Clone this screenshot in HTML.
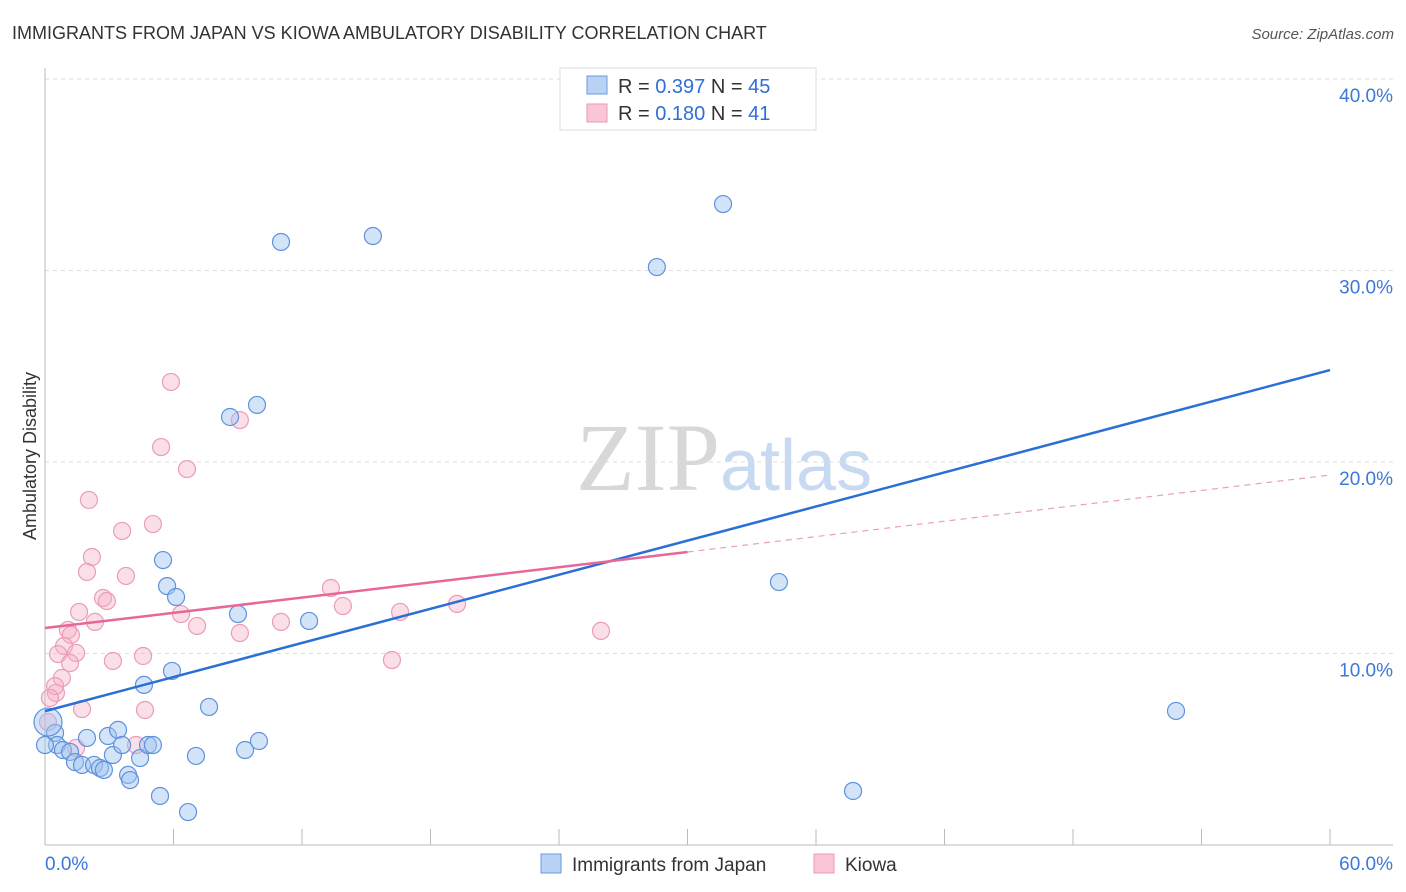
<!DOCTYPE html>
<html><head><meta charset="utf-8"><style>
body{margin:0;background:#fff;font-family:"Liberation Sans",sans-serif;}
svg{display:block}
</style></head><body>
<svg id="c" width="1406" height="892">
<text x="12" y="39" font-size="18" fill="#333">IMMIGRANTS FROM JAPAN VS KIOWA AMBULATORY DISABILITY CORRELATION CHART</text>
<text x="1394" y="39" font-size="15" fill="#555" font-style="italic" text-anchor="end">Source: ZipAtlas.com</text>
<text x="36" y="456" font-size="18" fill="#333" text-anchor="middle" transform="rotate(-90 36 456)">Ambulatory Disability</text>
<text x="720" y="490" font-size="96" fill="#d8d8d8" font-family="Liberation Serif" text-anchor="end">ZIP</text>
<text x="720" y="490" font-size="72" fill="#c8daf2">atlas</text>
<g id="grid"></g><g id="axes"></g><g id="pts"></g><g id="lines"></g>
<g>
<rect x="560" y="68" width="256" height="62" fill="#fff" stroke="#ddd"/>
<rect x="587" y="76" width="20" height="18" fill="#b9d3f5" stroke="#6a9ade"/>
<rect x="587" y="104" width="20" height="18" fill="#f9c6d5" stroke="#e99ab3"/>
<text x="618" y="93" font-size="20" fill="#333">R = <tspan fill="#2f6fd4">0.397</tspan>   N = <tspan fill="#2f6fd4">45</tspan></text>
<text x="618" y="120" font-size="20" fill="#333">R = <tspan fill="#2f6fd4">0.180</tspan>   N = <tspan fill="#2f6fd4"> 41</tspan></text>
</g>
<g>
<rect x="541" y="854" width="20" height="19" fill="#b9d3f5" stroke="#6a9ade"/>
<text x="572" y="871" font-size="19" fill="#333">Immigrants from Japan</text>
<rect x="814" y="854" width="20" height="19" fill="#f9c6d5" stroke="#e99ab3"/>
<text x="845" y="871" font-size="19" fill="#333">Kiowa</text>
</g>
</svg>
<script>
const yTicks=[10,20,30,40];
const yTickLabels=["10.0%","20.0%","30.0%","40.0%"];
const xTickLabels=["0.0%","60.0%"];
const japanX=[11.02,15.31,28.57,31.66,9.90,8.64,5.51,5.70,6.12,9.01,12.33,34.27,5.93,4.62,7.66,52.81,37.73,0.47,0.14,0.56,0.84,1.17,1.40,1.73,2.29,2.57,2.75,1.96,2.94,3.41,3.17,3.60,4.44,4.81,5.04,3.88,3.97,7.05,9.34,9.99,5.37,6.68,0.0];
const japanY=[31.49,31.80,30.18,33.47,22.98,22.35,14.88,13.52,12.95,12.06,11.70,13.73,9.09,8.36,7.21,7.00,2.82,5.85,6.42,5.22,4.96,4.86,4.33,4.18,4.18,4.02,3.92,5.59,5.69,6.01,4.70,5.22,4.54,5.22,5.22,3.66,3.39,4.65,4.96,5.43,2.56,1.72,5.22];
const kiowaX=[5.88,9.10,5.42,6.63,2.05,5.04,3.60,2.19,1.96,3.78,2.71,2.89,1.59,2.33,6.35,7.10,1.07,1.21,0.89,0.61,1.45,1.17,3.17,4.58,9.10,11.02,13.35,13.91,16.58,19.24,25.96,16.20,0.79,0.51,0.47,0.23,1.73,4.67,0.14,1.45,4.25];
const kiowaY=[24.18,22.19,20.78,19.63,18.02,16.76,16.40,15.04,14.26,14.05,12.90,12.74,12.17,11.65,12.06,11.44,11.23,10.97,10.39,9.97,10.03,9.50,9.61,9.87,11.07,11.65,13.42,12.48,12.17,12.59,11.18,9.66,8.72,7.94,8.30,7.68,7.10,7.05,6.42,5.07,5.22];
const japanTrend=[6.99,24.80];
const kiowaTrend=[11.33,15.30,19.32];
const X=v=>45+v/60*1285, Y=v=>845-v*19.15;
const NS="http://www.w3.org/2000/svg";
function mk(t,p,a){const e=document.createElementNS(NS,t);for(const k in a)e.setAttribute(k,a[k]);p.appendChild(e);return e;}
const grid=document.getElementById('grid'),axes=document.getElementById('axes'),pts=document.getElementById('pts'),lines=document.getElementById('lines');
yTicks.forEach((t,i)=>{
 const l=mk('line',grid,{x1:45,x2:1393,y1:Y(t),y2:Y(t),stroke:'#ddd','stroke-dasharray':'4,4'});
 
 
 const tx=mk('text',grid,{x:1393,y:Y(t)+23,'font-size':19,fill:'#3b78d8','text-anchor':'end'});
 tx.textContent=yTickLabels[i];
 
 
});
const ax=mk('line',axes,{x1:45,x2:1393,y1:845,y2:845,stroke:'#bbb'});


const ay=mk('line',axes,{x1:45,x2:45,y1:68,y2:845,stroke:'#bbb'});


for(let i=1;i<=10;i++){const t=mk('line',axes,{x1:X(i*6),x2:X(i*6),y1:829,y2:845,stroke:'#bbb'});
 
 }
[[0,'start',45],[60,'end',1393]].forEach((d,i)=>{const t=mk('text',axes,{x:d[2],y:870,'font-size':19,fill:'#3b78d8','text-anchor':d[1]});t.textContent=xTickLabels[i];
 
 });
kiowaX.forEach((x,i)=>{const c=mk('circle',pts,{cx:X(x),cy:Y(kiowaY[i]),r:8.5,fill:'rgba(245,175,198,0.4)',stroke:'#eb9cb6','stroke-width':1.2});
 
 });
japanX.forEach((x,i)=>{const c=mk('circle',pts,{cx:X(x),cy:Y(japanY[i]),r:i==18?14:8.5,fill:'rgba(160,195,240,0.45)',stroke:'#5e92dc','stroke-width':1.2});
 
 });
const bl=mk('line',lines,{x1:X(0),y1:Y(japanTrend[0]),x2:X(60),y2:Y(japanTrend[1]),stroke:'#2a6fd6','stroke-width':2.5});


const pl=mk('line',lines,{x1:X(0),y1:Y(kiowaTrend[0]),x2:X(30),y2:Y(kiowaTrend[1]),stroke:'#e8679a','stroke-width':2.5});


const pd=mk('line',lines,{x1:X(30),y1:Y(kiowaTrend[1]),x2:X(60),y2:Y(kiowaTrend[2]),stroke:'#e8a0bb','stroke-width':1.2,'stroke-dasharray':'6,5'});


</script>
</body></html>
